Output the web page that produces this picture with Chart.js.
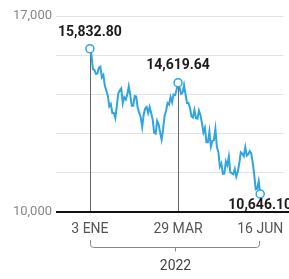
<!DOCTYPE html>
<html>
<head>
<meta charset="utf-8">
<script src="https://cdn.jsdelivr.net/npm/chart.js@4"></script>
<style>
  html, body { margin: 0; padding: 0; background: #fff; }
  #wrap { width: 289px; height: 279px; }
</style>
</head>
<body>
<div id="wrap"><canvas id="chart-nasdaq" width="289" height="279"></canvas></div>
<script>
// Nasdaq Composite, daily close, 3 Jan - 16 Jun 2022
const dates = [
  '3 ENE','4 ENE','5 ENE','6 ENE','7 ENE','10 ENE','11 ENE','12 ENE','13 ENE','14 ENE',
  '18 ENE','19 ENE','20 ENE','21 ENE','24 ENE','25 ENE','26 ENE','27 ENE','28 ENE','31 ENE',
  '1 FEB','2 FEB','3 FEB','4 FEB','7 FEB','8 FEB','9 FEB','10 FEB','11 FEB','14 FEB',
  '15 FEB','16 FEB','17 FEB','18 FEB','22 FEB','23 FEB','24 FEB','25 FEB','28 FEB',
  '1 MAR','2 MAR','3 MAR','4 MAR','7 MAR','8 MAR','9 MAR','10 MAR','11 MAR','14 MAR',
  '15 MAR','16 MAR','17 MAR','18 MAR','21 MAR','22 MAR','23 MAR','24 MAR','25 MAR','28 MAR',
  '29 MAR','30 MAR','31 MAR',
  '1 ABR','4 ABR','5 ABR','6 ABR','7 ABR','8 ABR','11 ABR','12 ABR','13 ABR','14 ABR',
  '18 ABR','19 ABR','20 ABR','21 ABR','22 ABR','25 ABR','26 ABR','27 ABR','28 ABR','29 ABR',
  '2 MAY','3 MAY','4 MAY','5 MAY','6 MAY','9 MAY','10 MAY','11 MAY','12 MAY','13 MAY',
  '16 MAY','17 MAY','18 MAY','19 MAY','20 MAY','23 MAY','24 MAY','25 MAY','26 MAY','27 MAY','31 MAY',
  '1 JUN','2 JUN','3 JUN','6 JUN','7 JUN','8 JUN','9 JUN','10 JUN','13 JUN','14 JUN','15 JUN','16 JUN'
];
const closes = [
  15832.80,15622.72,15100.17,15080.86,14935.90,14942.83,15153.45,15188.39,14806.81,14893.75,
  14506.90,14340.26,14154.02,13768.92,13855.13,13539.29,13542.12,13352.78,13770.57,14239.88,
  14346.00,14417.55,13878.82,14098.01,14015.67,14194.46,14490.37,14185.64,13791.15,13790.92,
  14139.76,14124.09,13716.72,13548.07,13381.52,13037.49,13473.59,13694.62,13751.40,
  13532.46,13752.02,13537.94,13313.44,12830.96,12795.55,13255.55,13129.96,12843.81,12581.22,
  12948.62,13436.55,13614.78,13893.84,13838.46,14108.82,13922.60,14191.84,14169.30,14354.90,
  14619.64,14442.28,14220.52,
  14261.50,14532.55,14204.17,13888.82,13897.30,13711.00,13411.96,13371.57,13643.59,13351.08,
  13332.36,13619.66,13453.07,13174.65,12839.29,13004.85,12490.74,12488.93,12871.53,12334.64,
  12536.02,12563.76,12964.86,12317.69,12144.66,11623.25,11737.67,11364.24,11370.96,11805.00,
  11662.79,11984.52,11418.15,11388.50,11354.62,11535.27,11264.45,11434.74,11740.65,12131.13,12081.39,
  11994.46,12316.90,12012.73,12061.37,12175.23,12086.27,11754.23,11340.02,10809.23,10828.35,11099.15,10646.10
];
const markedIdx = [0, 59, 114];          // 3 ENE, 29 MAR, 16 JUN
const yearLabel = '2022';
const yTicks = [10000, 11400, 12800, 14200, 15600, 17000];
const yLabelled = [10000, 17000];

const BLUE = '#30a5e2';
const FONT = "Roboto, sans-serif";

function fmt(v, d) {
    return v.toLocaleString('en-US', { minimumFractionDigits: d, maximumFractionDigits: d });
}

const markers = {
    id: 'markers',
    beforeDatasetsDraw(chart) {
        const ctx = chart.ctx, x = chart.scales.x, y = chart.scales.y;
        ctx.save();
        ctx.strokeStyle = '#666';
        ctx.lineWidth = 1;
        [0, 59].forEach(function (i) {
            const px = Math.round(x.getPixelForValue(i)) + 0.5;
            ctx.beginPath();
            ctx.moveTo(px, y.getPixelForValue(closes[i]));
            ctx.lineTo(px, y.getPixelForValue(10000));
            ctx.stroke();
        });
        ctx.restore();
    },
    afterDatasetsDraw(chart) {
        const ctx = chart.ctx, x = chart.scales.x, y = chart.scales.y;
        const base = y.getPixelForValue(10000);
        ctx.save();
        // axis line
        ctx.strokeStyle = '#111';
        ctx.lineWidth = 2;
        ctx.beginPath();
        ctx.moveTo(chart.chartArea.left, base);
        ctx.lineTo(chart.width, base);
        ctx.stroke();

        // value labels
        ctx.fillStyle = '#1b1b1b';
        ctx.font = 'bold 14px ' + FONT;
        ctx.textAlign = 'center';
        ctx.textBaseline = 'middle';
        ctx.fillText(fmt(closes[0], 2), x.getPixelForValue(0), y.getPixelForValue(closes[0]) - 16);
        ctx.fillText(fmt(closes[59], 2), x.getPixelForValue(59), y.getPixelForValue(closes[59]) - 17);
        ctx.fillText(fmt(closes[114], 2), x.getPixelForValue(114), y.getPixelForValue(closes[114]) + 12);

        // year bracket
        const x0 = Math.round(x.getPixelForValue(0)) + 0.5, x1 = Math.round(x.getPixelForValue(114)) - 0.5;
        const xm = Math.round((x0 + x1) / 2) + 0.5;
        const by = 247.5;
        ctx.strokeStyle = '#888';
        ctx.lineWidth = 1;
        ctx.beginPath();
        ctx.moveTo(x0, 240);
        ctx.lineTo(x0, by - 3);
        ctx.quadraticCurveTo(x0, by, x0 + 3, by);
        ctx.lineTo(x1 - 3, by);
        ctx.quadraticCurveTo(x1, by, x1, by - 3);
        ctx.lineTo(x1, 241);
        ctx.moveTo(xm, by);
        ctx.lineTo(xm, by + 4);
        ctx.stroke();

        ctx.fillStyle = '#444';
        ctx.font = '14px ' + FONT;
        ctx.fillText(yearLabel, xm, 266);
        ctx.restore();
    }
};

const chart = new Chart(document.getElementById('chart-nasdaq'), {
    type: 'line',
    data: {
        datasets: [{
            data: closes.map(function (v, i) { return { x: i, y: v }; }),
            borderColor: BLUE,
            borderWidth: 2,
            tension: 0,
            pointRadius: function (c) { return markedIdx.includes(c.dataIndex) ? 4 : 0; },
            pointBackgroundColor: '#fff',
            pointBorderColor: BLUE,
            pointBorderWidth: 1.5,
            clip: false
        }]
    },
    plugins: [markers],
    options: {
        responsive: false,
        animation: false,
        events: [],
        layout: { padding: { top: 16, right: 0, left: 0, bottom: 0 } },
        plugins: { legend: { display: false }, tooltip: { enabled: false } },
        scales: {
            x: {
                type: 'linear',
                min: -22.7,
                max: 129.6,
                grid: { display: false, drawTicks: false },
                border: { display: false },
                afterBuildTicks: function (s) { s.ticks = markedIdx.map(function (i) { return { value: i }; }); },
                afterFit: function (s) { s.height = 67; s.paddingLeft = 0; s.paddingRight = 0; },
                ticks: {
                    autoSkip: false,
                    maxRotation: 0,
                    padding: 9,
                    color: '#555',
                    font: { family: FONT, size: 14 },
                    callback: function (v) { return dates[v]; }
                }
            },
            y: {
                min: 10000,
                max: 17000,
                afterBuildTicks: function (s) { s.ticks = yTicks.map(function (v) { return { value: v }; }); },
                afterFit: function (s) { s.width = 56; },
                grid: { color: '#e2e2e2', drawTicks: false },
                border: { display: false },
                ticks: {
                    padding: 4,
                    color: '#888',
                    font: { family: FONT, size: 13 },
                    callback: function (v) { return yLabelled.includes(v) ? fmt(v, 0) : ''; }
                }
            }
        }
    }
});
</script>
</body>
</html>
